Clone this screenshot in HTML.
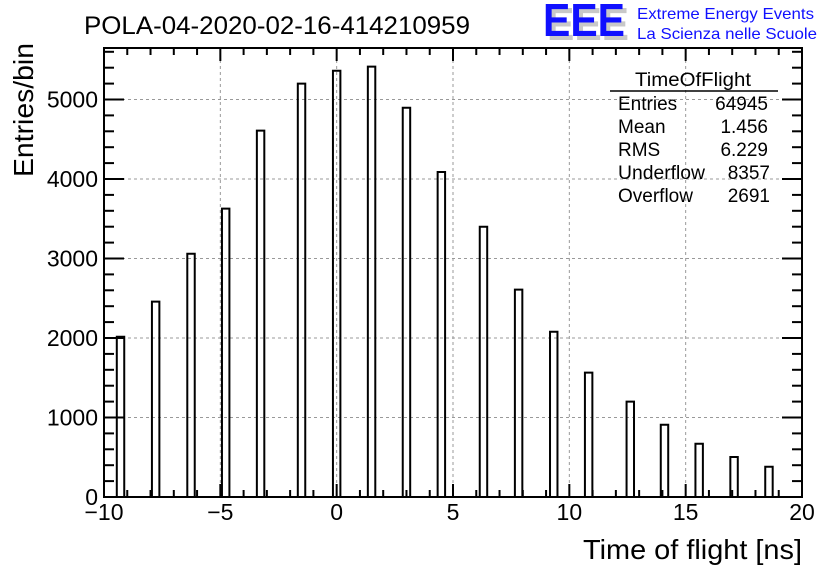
<!DOCTYPE html>
<html><head><meta charset="utf-8"><style>
body{margin:0;background:#fff;width:836px;height:572px;overflow:hidden}
svg{font-family:"Liberation Sans",sans-serif}
</style></head><body>
<svg id="chart" width="836" height="572" viewBox="0 0 836 572" xmlns="http://www.w3.org/2000/svg">
<rect width="836" height="572" fill="#fff"/>
<g id="grid"></g>
<g id="bars"></g>
<g id="axes"></g>
<text x="84" y="34" font-size="25" textLength="386" lengthAdjust="spacingAndGlyphs">POLA-04-2020-02-16-414210959</text>
<g>
<text x="547" y="40" font-size="46" font-weight="bold" fill="#c8c8c8" textLength="82" lengthAdjust="spacingAndGlyphs">EEE</text>
<text x="543" y="36" font-size="46" font-weight="bold" fill="#1010ff" textLength="82" lengthAdjust="spacingAndGlyphs">EEE</text>
<text x="637" y="19" font-size="16" fill="#1010ff" textLength="177" lengthAdjust="spacingAndGlyphs">Extreme Energy Events</text>
<text x="637" y="39" font-size="16" fill="#1010ff" textLength="180" lengthAdjust="spacingAndGlyphs">La Scienza nelle Scuole</text>
</g>
<g font-size="19">
<text x="693" y="86" text-anchor="middle" textLength="116" lengthAdjust="spacingAndGlyphs">TimeOfFlight</text>
<line x1="610" y1="91" x2="778" y2="91" stroke="#000" stroke-width="1.5"/>
<text x="618" y="110">Entries</text><text x="768" y="110" text-anchor="end">64945</text>
<text x="618" y="133">Mean</text><text x="768" y="133" text-anchor="end">1.456</text>
<text x="618" y="156">RMS</text><text x="768" y="156" text-anchor="end">6.229</text>
<text x="618" y="179" textLength="87" lengthAdjust="spacingAndGlyphs">Underflow</text><text x="770" y="179" text-anchor="end">8357</text>
<text x="618" y="202">Overflow</text><text x="770" y="202" text-anchor="end">2691</text>
</g>
<text x="802" y="559" font-size="28" text-anchor="end" textLength="219" lengthAdjust="spacingAndGlyphs">Time of flight [ns]</text>
<text transform="translate(33,177) rotate(-90)" font-size="28" textLength="134" lengthAdjust="spacingAndGlyphs">Entries/bin</text>
</svg>
<script>
const binCenters = [-9.29,-7.78,-6.26,-4.77,-3.27,-1.51,0,1.50,3.00,4.50,6.31,7.82,9.33,10.83,12.62,14.09,15.58,17.08,18.58];
const binCounts = [2016,2457,3060,3627,4608,5199,5362,5413,4897,4088,3400,2608,2079,1564,1199,909,670,503,381];
const xTicks = [-10,-5,0,5,10,15,20];
const xTickLabels = ["\u221210","\u22125","0","5","10","15","20"];
const yTicks = [0,1000,2000,3000,4000,5000];
const yTickLabels = ["0","1000","2000","3000","4000","5000"];
const binWidth = 0.32;

const L=104,R=802,T=48,B=497;
const xs=v=>L+(v+10)/30*(R-L);
const ys=v=>B-v*0.0795;
const NS="http://www.w3.org/2000/svg";
function mk(tag,attrs,parent){const e=document.createElementNS(NS,tag);for(const k in attrs)e.setAttribute(k,attrs[k]);parent.appendChild(e);return e;}
const grid=document.getElementById('grid'),bars=document.getElementById('bars'),axes=document.getElementById('axes');
xTicks.forEach((t,i)=>{
  if(i>0&&i<xTicks.length-1){const g=mk('line',{x1:xs(t),x2:xs(t),y1:T,y2:B,stroke:'#999','stroke-dasharray':'3,3','stroke-width':1},grid);
  
  }
  const tx=mk('text',{x:xs(t),y:520,'font-size':23,'text-anchor':'middle'},axes);tx.textContent=xTickLabels[i];
  
  
});
yTicks.forEach((t,i)=>{
  if(i>0){const g=mk('line',{x1:L,x2:R,y1:ys(t),y2:ys(t),stroke:'#999','stroke-dasharray':'3,3','stroke-width':1},grid);
  
  }
  const tx=mk('text',{x:98,y:ys(t)+8,'font-size':23,'text-anchor':'end'},axes);tx.textContent=yTickLabels[i];
  
  
});
binCenters.forEach((c,i)=>{
  const x0=xs(c-binWidth/2),x1=xs(c+binWidth/2),y=ys(binCounts[i]);
  const p=mk('path',{d:`M${x0},${B}V${y}H${x1}V${B}`,fill:'none',stroke:'#000','stroke-width':2},bars);
  
  
});
mk('rect',{x:L,y:T,width:R-L,height:B-T,fill:'none',stroke:'#000','stroke-width':2},axes);
for(let v=-10;v<=20;v++){const len=(v%5===0)?13:7;
  mk('line',{x1:xs(v),x2:xs(v),y1:B,y2:B-len,stroke:'#000','stroke-width':2},axes);
  mk('line',{x1:xs(v),x2:xs(v),y1:T,y2:T+len,stroke:'#000','stroke-width':2},axes);}
for(let v=0;v<=5600;v+=200){const len=(v%1000===0)?20:10;
  mk('line',{x1:L,x2:L+len,y1:ys(v),y2:ys(v),stroke:'#000','stroke-width':2},axes);
  mk('line',{x1:R,x2:R-len,y1:ys(v),y2:ys(v),stroke:'#000','stroke-width':2},axes);}
</script>
</body></html>
